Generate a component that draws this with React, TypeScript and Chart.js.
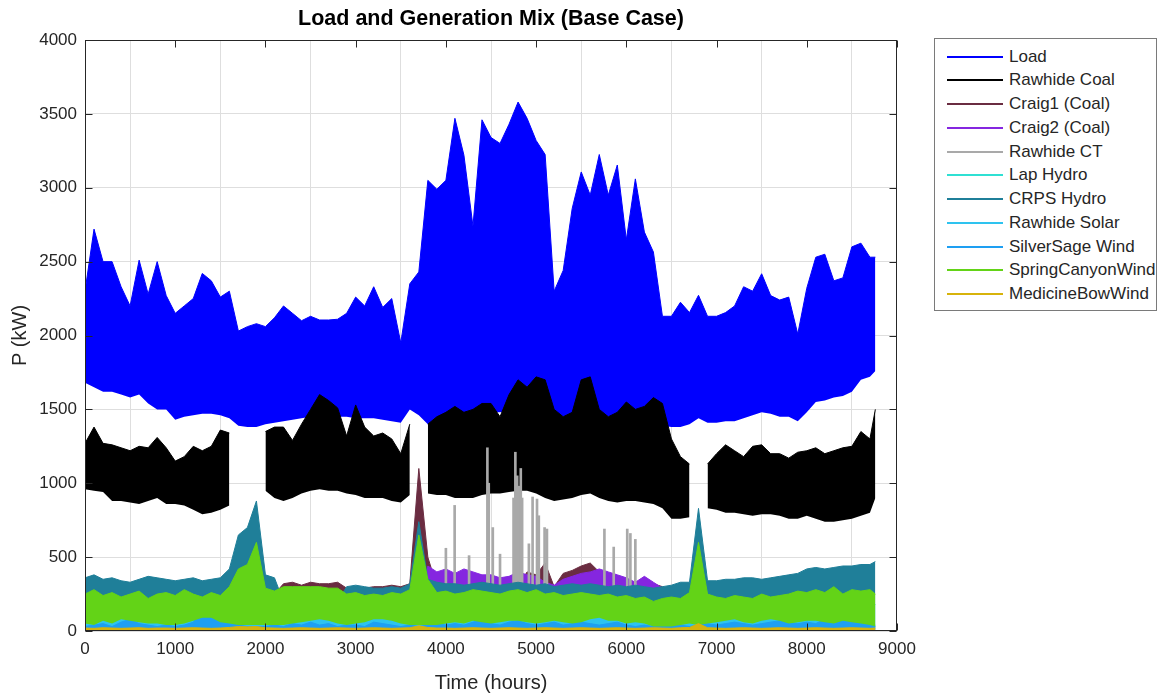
import React, { useEffect, useRef } from "react";
import { Chart, registerables } from "chart.js";

Chart.register(...registerables);

// Shared hourly sample positions (every 100 h, plus the last hour of the year)
const HOURS: number[] = [...Array.from({ length: 88 }, (_, i) => i * 100), 8760];

const LABELS = [
  "Load",
  "Rawhide Coal",
  "Craig1 (Coal)",
  "Craig2 (Coal)",
  "Rawhide CT",
  "Lap Hydro",
  "CRPS Hydro",
  "Rawhide Solar",
  "SilverSage Wind",
  "SpringCanyonWind",
  "MedicineBowWind",
];

const COLORS = [
  "#0000ff",
  "#000000",
  "#6a2c41",
  "#8526e0",
  "#a9a9a9",
  "#2fe0d3",
  "#1f7f99",
  "#2ec3ef",
  "#1e9ff2",
  "#63d317",
  "#d7b30b",
];

const X_TICKS_MAX = 9000;
const Y_TICKS_MAX = 4000;

// Load envelope (upper / lower)
const LOAD_HIGH = [
  2300, 2720, 2500, 2500, 2330, 2200, 2510, 2280, 2500, 2270,
  2150, 2200, 2250, 2420, 2370, 2260, 2300, 2030, 2060, 2080,
  2060, 2120, 2200, 2150, 2100, 2130, 2105, 2105, 2110, 2150,
  2260, 2200, 2330, 2190, 2250, 1950, 2350, 2430, 3050, 2990,
  3050, 3470, 3220, 2740, 3460, 3340, 3300, 3430, 3580, 3470,
  3320, 3225, 2300, 2440, 2860, 3107, 2950, 3225, 2950, 3154,
  2648, 3060, 2700, 2565, 2130, 2130, 2225, 2155, 2272, 2130,
  2130, 2155, 2200, 2330, 2300, 2418, 2270, 2240, 2260, 2010,
  2320, 2530, 2550, 2370, 2390, 2600, 2625, 2530,
  2530,
];
const LOAD_LOW = [
  1680, 1650, 1620, 1620, 1600, 1580, 1600, 1540, 1500, 1500,
  1430, 1450, 1460, 1470, 1470, 1460, 1440, 1390, 1380, 1380,
  1400, 1410, 1420, 1430, 1440, 1450, 1450, 1440, 1450, 1450,
  1440, 1440, 1440, 1430, 1420, 1410, 1500, 1460, 1400, 1410,
  1410, 1420, 1420, 1430, 1460, 1480, 1480, 1490, 1500, 1490,
  1480, 1470, 1460, 1450, 1440, 1440, 1450, 1450, 1450, 1440,
  1430, 1420, 1400, 1400, 1390, 1380, 1380, 1400, 1440, 1410,
  1410, 1420, 1420, 1440, 1460, 1480, 1470, 1450, 1450, 1420,
  1480, 1550, 1560, 1580, 1590, 1620, 1700, 1720,
  1760,
];

// Rawhide Coal envelope (null = unit offline)
const COAL_HIGH = [
  1270, 1380, 1270, 1260, 1240, 1220, 1250, 1240, 1310, 1240,
  1150, 1180, 1250, 1220, 1250, 1360, 1340, null, null, null,
  1350, 1380, 1380, 1290, 1400, 1500, 1600, 1560, 1510, 1320,
  1530, 1380, 1320, 1340, 1300, 1200, 1400, null, 1400, 1450,
  1480, 1520, 1480, 1500, 1540, 1540, 1450, 1600, 1700, 1650,
  1720, 1700, 1500, 1450, 1480, 1700, 1720, 1500, 1450, 1480,
  1550, 1500, 1520, 1580, 1540, 1300, 1180, 1130, null, 1130,
  1200, 1260, 1220, 1180, 1250, 1260, 1200, 1200, 1170, 1210,
  1220, 1240, 1200, 1220, 1240, 1250, 1350, 1300,
  1500,
];
const COAL_LOW = [
  960, 950, 940, 880, 880, 870, 860, 880, 900, 860,
  860, 850, 820, 790, 800, 820, 850, null, null, null,
  950, 900, 880, 900, 930, 950, 960, 950, 950, 930,
  920, 900, 900, 900, 880, 870, 920, null, 930, 920,
  920, 900, 900, 900, 920, 930, 930, 940, 950, 950,
  930, 900, 880, 890, 900, 920, 930, 900, 880, 870,
  880, 880, 870, 860, 830, 760, 760, 770, null, 830,
  820, 800, 800, 790, 780, 790, 790, 780, 760, 760,
  780, 760, 740, 740, 750, 760, 780, 800,
  900,
];

const CRAIG1 = [
  0, 0, 0, 0, 0, 0, 0, 0, 0, 0,
  0, 0, 0, 0, 0, 0, 0, 0, 0, 0,
  0, 250, 320, 330, 310, 330, 320, 320, 330, 290,
  280, 290, 300, 300, 310, 300, 320, 1100, 500, 300,
  300, 300, 300, 300, 300, 300, 300, 300, 300, 400,
  380, 460, 300, 390, 410, 440, 460, 400, 300, 300,
  300, 300, 300, 320, 300, 0, 0, 0, 0, 0,
  0, 0, 0, 0, 0, 0, 0, 0, 0, 0,
  0, 0, 0, 0, 0, 0, 0, 0,
  0,
];

const CRAIG2 = [
  0, 0, 0, 0, 0, 0, 0, 0, 0, 0,
  0, 0, 0, 0, 0, 0, 0, 0, 0, 0,
  0, 0, 0, 0, 0, 0, 0, 0, 0, 0,
  0, 0, 0, 0, 0, 0, 0, 0, 440, 400,
  420, 390, 420, 400, 380, 380, 360, 370, 400, 380,
  370, 330, 310, 350, 370, 390, 400, 420, 400, 380,
  360, 330, 370, 330, 290, 0, 0, 0, 0, 0,
  0, 0, 0, 0, 0, 0, 0, 0, 0, 0,
  0, 0, 0, 0, 0, 0, 0, 0,
  0,
];

// Rawhide CT runs only in short bursts: hour of each burst and its peak
const CT_HOURS = [4000, 4097, 4257, 4460, 4475, 4520, 4600, 4750, 4770, 4790, 4810, 4830, 4845, 4920, 4961, 5010, 5030, 5094, 5120, 5757, 5860, 6010, 6045, 6100];
const CT_PEAKS = [560, 850, 510, 1240, 1000, 700, 520, 900, 1210, 1050, 980, 1100, 900, 590, 907, 893, 780, 700, 690, 690, 568, 690, 660, 620];

const LAP_HYDRO = [
  90, 100, 80, 70, 60, 80, 90, 70, 60, 70,
  60, 70, 80, 100, 90, 70, 60, 60, 50, 50,
  50, 40, 50, 40, 50, 40, 50, 40, 50, 40,
  50, 40, 50, 40, 50, 60, 50, 60, 50, 40,
  50, 40, 50, 40, 50, 40, 50, 40, 50, 40,
  50, 40, 50, 40, 50, 40, 50, 40, 50, 40,
  50, 40, 50, 40, 50, 40, 60, 50, 60, 50,
  60, 50, 60, 50, 60, 70, 60, 80, 90, 80,
  100, 110, 120, 100, 120, 140, 160, 200,
  180,
];

const CRPS_HYDRO = [
  360, 380, 350, 360, 340, 330, 350, 370, 360, 350,
  340, 350, 360, 340, 350, 360, 420, 650, 700, 880,
  380, 360, 200, 200, 200, 200, 200, 200, 200, 300,
  310, 300, 290, 290, 300, 290, 320, 740, 350, 330,
  320, 320, 310, 320, 330, 320, 310, 320, 330, 320,
  310, 320, 300, 310, 320, 310, 320, 310, 300, 310,
  300, 310, 300, 290, 300, 310, 330, 330, 830, 340,
  340, 350, 350, 360, 360, 350, 360, 370, 380, 390,
  420, 430, 420, 430, 440, 440, 450, 450,
  470,
];

const RAWHIDE_SOLAR = [
  70, 60, 90, 80, 110, 120, 90, 70, 60, 50,
  40, 60, 100, 130, 120, 80, 60, 40, 40, 40,
  40, 50, 40, 60, 80, 90, 110, 100, 70, 60,
  60, 70, 100, 110, 90, 60, 50, 40, 40, 50,
  60, 70, 60, 80, 70, 60, 70, 90, 80, 70,
  60, 70, 80, 70, 60, 70, 100, 110, 80, 90,
  60, 70, 60, 40, 30, 30, 40, 60, 40, 60,
  70, 90, 100, 80, 70, 90, 100, 80, 60, 70,
  90, 80, 70, 60, 80, 70, 60, 50,
  40,
];

const SILVERSAGE = [
  30, 40, 50, 30, 60, 80, 50, 40, 30, 40,
  30, 40, 60, 140, 130, 90, 50, 40, 30, 30,
  30, 40, 30, 50, 40, 60, 40, 50, 30, 40,
  40, 30, 60, 50, 40, 30, 40, 30, 40, 50,
  40, 50, 40, 60, 80, 50, 40, 60, 70, 50,
  40, 50, 60, 40, 50, 60, 50, 40, 50, 60,
  40, 30, 40, 30, 40, 50, 40, 30, 40, 50,
  40, 50, 60, 50, 40, 50, 60, 70, 60, 50,
  60, 50, 80, 100, 110, 120, 70, 40,
  30,
];

const SPRING_HIGH = [
  250, 280, 240, 260, 230, 250, 270, 220, 250, 260,
  240, 280, 250, 230, 260, 240, 300, 420, 450, 600,
  290, 270, 300, 300, 300, 300, 300, 290, 290, 250,
  260, 240, 250, 240, 260, 250, 280, 650, 350, 260,
  270, 250, 260, 280, 270, 260, 250, 270, 280, 260,
  280, 250, 260, 240, 250, 260, 250, 240, 250, 230,
  240, 220, 230, 200, 220, 230, 220, 260, 600, 250,
  230, 220, 240, 230, 220, 250, 230, 240, 250, 270,
  260, 280, 260, 300, 250, 280, 270, 280,
  250,
];
const SPRING_LOW = [
  50, 40, 70, 50, 80, 70, 60, 50, 50, 40,
  40, 50, 70, 90, 90, 60, 50, 40, 40, 40,
  40, 40, 40, 50, 60, 70, 80, 70, 50, 40,
  50, 60, 80, 80, 70, 50, 40, 40, 40, 40,
  50, 60, 50, 70, 60, 50, 60, 70, 70, 60,
  50, 60, 70, 60, 50, 60, 80, 90, 70, 70,
  50, 60, 50, 30, 30, 30, 40, 50, 40, 50,
  60, 70, 80, 60, 50, 70, 80, 70, 50, 60,
  70, 70, 60, 50, 70, 60, 50, 40,
  30,
];

const MEDICINE_BOW = [
  20, 18, 22, 20, 18, 20, 22, 18, 20, 20,
  18, 20, 22, 20, 18, 20, 24, 30, 28, 30,
  22, 20, 18, 20, 22, 20, 18, 20, 22, 20,
  18, 20, 22, 20, 18, 20, 22, 35, 24, 20,
  20, 18, 20, 22, 20, 18, 20, 22, 20, 18,
  20, 22, 20, 18, 20, 22, 20, 18, 20, 22,
  20, 18, 20, 22, 20, 18, 22, 24, 50, 22,
  20, 18, 20, 22, 20, 18, 20, 22, 20, 18,
  20, 22, 20, 18, 20, 22, 20, 18,
  20,
];

const FONT = "'Liberation Sans', Arial, Helvetica, sans-serif";

type Num = number | null;
const pts = (vals: Num[]) => HOURS.map((h, i) => ({ x: h, y: vals[i] }));

function band(idx: number, hi: Num[], lo: Num[] | null): any[] {
  const color = COLORS[idx];
  const order = LABELS.length - idx;
  const top: any = {
    type: "line",
    label: LABELS[idx],
    data: pts(hi),
    borderColor: color,
    backgroundColor: color,
    borderWidth: 1,
    pointRadius: 0,
    tension: 0,
    spanGaps: false,
    fill: lo ? "+1" : "origin",
    order,
  };
  if (!lo) return [top];
  const bottom: any = {
    type: "line",
    label: LABELS[idx] + " min",
    data: pts(lo),
    borderColor: "rgba(0,0,0,0)",
    backgroundColor: "rgba(0,0,0,0)",
    borderWidth: 0,
    pointRadius: 0,
    tension: 0,
    spanGaps: false,
    fill: false,
    order,
  };
  return [top, bottom];
}

const boxPlugin = {
  id: "matlabBox",
  afterDatasetsDraw(chart: any) {
    const { ctx, chartArea: a, scales } = chart;
    const l = Math.round(a.left) + 0.5;
    const r = Math.round(a.right) - 0.5;
    const t = Math.round(a.top) + 0.5;
    const b = Math.round(a.bottom) - 0.5;
    ctx.save();
    ctx.strokeStyle = "#262626";
    ctx.lineWidth = 1;
    ctx.strokeRect(l, t, r - l, b - t);
    ctx.beginPath();
    for (const tk of scales.x.ticks) {
      const px = Math.round(scales.x.getPixelForValue(tk.value)) + 0.5;
      ctx.moveTo(px, b);
      ctx.lineTo(px, b - 7);
      ctx.moveTo(px, t);
      ctx.lineTo(px, t + 7);
    }
    for (const tk of scales.y.ticks) {
      const py = Math.round(scales.y.getPixelForValue(tk.value)) + 0.5;
      ctx.moveTo(l, py);
      ctx.lineTo(l + 7, py);
      ctx.moveTo(r, py);
      ctx.lineTo(r - 7, py);
    }
    ctx.stroke();
    ctx.restore();
  },
};

export default function App() {
  const ref = useRef<HTMLCanvasElement>(null);

  useEffect(() => {
    if (!ref.current) return;
    const datasets: any[] = [
      ...band(0, LOAD_HIGH, LOAD_LOW),
      ...band(1, COAL_HIGH, COAL_LOW),
      ...band(2, CRAIG1, null),
      ...band(3, CRAIG2, null),
      {
        type: "bar",
        label: LABELS[4],
        data: CT_HOURS.map((h, i) => ({ x: h, y: CT_PEAKS[i] })),
        backgroundColor: COLORS[4],
        borderWidth: 0,
        barThickness: 2,
        grouped: false,
        order: LABELS.length - 4,
      },
      ...band(5, LAP_HYDRO, null),
      ...band(6, CRPS_HYDRO, null),
      ...band(7, RAWHIDE_SOLAR, null),
      ...band(8, SILVERSAGE, null),
      ...band(9, SPRING_HIGH, SPRING_LOW),
      ...band(10, MEDICINE_BOW, null),
    ];

    const chart = new Chart(ref.current, {
      type: "line",
      data: { datasets },
      plugins: [boxPlugin],
      options: {
        responsive: false,
        animation: false,
        events: [],
        layout: { padding: { left: 0, right: 0, top: 0, bottom: 0 } },
        plugins: {
          legend: { display: false },
          tooltip: { enabled: false },
          title: {
            display: true,
            text: "Load and Generation Mix (Base Case)",
            color: "#000000",
            font: { family: FONT, size: 21.5, weight: "bold" },
            padding: { top: 6.5, bottom: 7.7 },
          },
        },
        scales: {
          x: {
            type: "linear",
            min: 0,
            max: X_TICKS_MAX,
            offset: false,
            ticks: {
              stepSize: 1000,
              color: "#262626",
              font: { family: FONT, size: 17 },
              padding: 8,
              maxRotation: 0,
              callback: (v: any) => String(v),
            },
            grid: { color: "#dedede", lineWidth: 1, drawTicks: false },
            border: { display: false },
            title: {
              display: true,
              text: "Time (hours)",
              color: "#262626",
              font: { family: FONT, size: 20 },
              padding: { top: 0, bottom: 1 },
            },
            afterFit: (s: any) => {
              s.height = 65;
            },
          },
          y: {
            type: "linear",
            min: 0,
            max: Y_TICKS_MAX,
            ticks: {
              stepSize: 500,
              color: "#262626",
              font: { family: FONT, size: 17 },
              padding: 8,
              callback: (v: any) => String(v),
            },
            grid: { color: "#dedede", lineWidth: 1, drawTicks: false },
            border: { display: false },
            title: {
              display: true,
              text: "P (kW)",
              color: "#262626",
              font: { family: FONT, size: 20 },
              padding: { top: 8, bottom: 0 },
            },
            afterFit: (s: any) => {
              s.width = 85;
            },
          },
          // empty right-hand spacer so the title is centred over the plot area
          yRight: {
            type: "linear",
            position: "right",
            display: true,
            ticks: { display: false },
            grid: { display: false, drawTicks: false },
            border: { display: false },
            afterFit: (s: any) => {
              s.width = 85;
            },
          },
        },
      } as any,
    });
    return () => chart.destroy();
  }, []);

  const rowH = 23.75;
  return (
    <div
      style={{
        position: "fixed",
        left: 0,
        top: 0,
        width: 1159,
        height: 696,
        background: "#ffffff",
        fontFamily: FONT,
      }}
    >
      <canvas
        ref={ref}
        width={982}
        height={696}
        style={{ position: "absolute", left: 0, top: 0, width: 982, height: 696 }}
      />
      <div
        style={{
          position: "absolute",
          left: 934,
          top: 38,
          width: 223,
          height: 273,
          border: "1px solid #7a7a7a",
          boxSizing: "border-box",
          background: "#ffffff",
        }}
      >
        {LABELS.map((lab, i) => (
          <div
            key={lab}
            style={{
              position: "absolute",
              left: 0,
              top: 17.7 + i * rowH - 10,
              height: 20,
              width: 221,
            }}
          >
            <div
              style={{
                position: "absolute",
                left: 12,
                top: 9,
                width: 56,
                height: 2,
                background: COLORS[i],
              }}
            />
            <span
              style={{
                position: "absolute",
                left: 74,
                top: 0,
                fontSize: 17,
                lineHeight: "20px",
                color: "#262626",
                whiteSpace: "nowrap",
              }}
            >
              {lab}
            </span>
          </div>
        ))}
      </div>
    </div>
  );
}
